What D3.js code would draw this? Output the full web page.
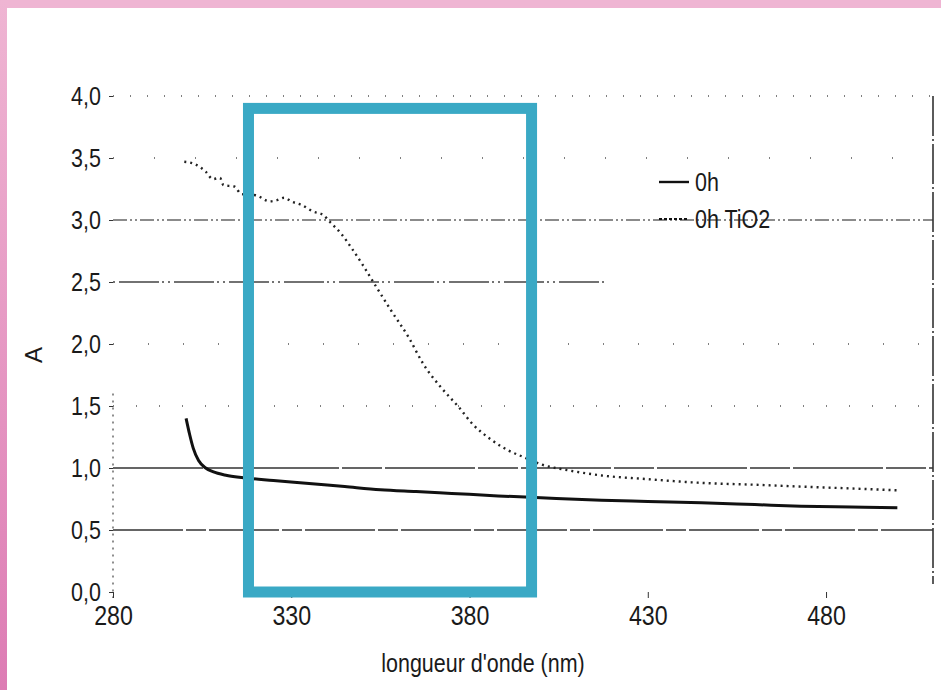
<!DOCTYPE html>
<html>
<head>
<meta charset="utf-8">
<script src="https://cdn.jsdelivr.net/npm/d3@7"></script>
<style>
  body { margin: 0; background: #fff; }
  text { font-family: "Liberation Sans", Arial, sans-serif; fill: #1a1a1a; }
</style>
</head>
<body>
<script>
// absorbance spectra
var wl0h = [300.5, 301.5, 302.5, 304, 306, 308, 312, 317, 325, 335, 345, 355, 365, 375, 388, 400, 417, 430, 445, 460, 473, 487, 500];
var abs0h = [1.40, 1.27, 1.16, 1.06, 1.00, 0.97, 0.94, 0.92, 0.90, 0.875, 0.85, 0.825, 0.81, 0.795, 0.775, 0.76, 0.74, 0.73, 0.72, 0.705, 0.692, 0.685, 0.68];

var wlTiO2 = [300, 303, 306, 308, 310, 311, 314, 316, 320, 324, 326, 328, 330, 333, 336, 339, 341, 344, 347, 350, 353, 358, 363, 367, 372, 377, 381, 386, 391, 395, 400, 408, 417, 430, 445, 460, 473, 487, 500];
var absTiO2 = [3.47, 3.45, 3.39, 3.33, 3.34, 3.28, 3.27, 3.21, 3.20, 3.15, 3.16, 3.18, 3.15, 3.12, 3.07, 3.04, 2.98, 2.89, 2.77, 2.64, 2.50, 2.27, 2.05, 1.84, 1.65, 1.49, 1.35, 1.23, 1.14, 1.09, 1.03, 0.98, 0.94, 0.91, 0.88, 0.865, 0.85, 0.835, 0.82];

var xTicks = [280, 330, 380, 430, 480];
var yTicks = [0, 0.5, 1, 1.5, 2, 2.5, 3, 3.5, 4];
var seriesNames = ["0h", "0h TiO2"];

// highlighted region (nm, A)
var boxX = [318, 397.4];
var boxY = [0, 3.9];

var W = 941, H = 690;
var squeeze = "scale(0.86,1)";   // scanned text is narrow

var svg = d3.select("body").append("svg")
    .attr("width", W)
    .attr("height", H);

// pink frame from the slide
var defs = svg.append("defs");
var grad = defs.append("linearGradient").attr("id", "pinkside")
    .attr("x1", 0).attr("y1", 0).attr("x2", 0).attr("y2", 1);
grad.append("stop").attr("offset", "0%").attr("stop-color", "#efb5d3");
grad.append("stop").attr("offset", "100%").attr("stop-color", "#dd7cb4");

svg.append("rect").attr("width", W).attr("height", H).attr("fill", "#fff");
svg.append("rect").attr("x", 0).attr("y", 0).attr("width", W).attr("height", 8).attr("fill", "#efb5d3");
svg.append("rect").attr("x", 0).attr("y", 0).attr("width", 7).attr("height", H).attr("fill", "url(#pinkside)");

var x = d3.scaleLinear().domain([280, 510]).range([113, 933]);
var y = d3.scaleLinear().domain([0, 4]).range([592, 96]);

// gridlines - the scan has faded most of them into dots
var gridDash = ["0", "70,3,20,3", "90,3,40,3", "1,22", "1,34", "2,4,40,3,2,4", "14,3,2,3,2,3", "1,40", "1,16"];
var gridCol  = ["none", "#333", "#333", "#555", "#555", "#444", "#666", "#555", "#555"];
var gridEnd  = [510, 510, 510, 510, 510, 418, 510, 510, 510];
svg.append("g").selectAll("line")
    .data(yTicks)
    .enter().append("line")
    .attr("x1", x(280))
    .attr("x2", function(d, i) { return x(gridEnd[i]); })
    .attr("y1", function(d) { return y(d); })
    .attr("y2", function(d) { return y(d); })
    .attr("stroke", function(d, i) { return gridCol[i]; })
    .attr("stroke-width", function(d, i) { return i < 3 ? 1.5 : 1.3; })
    .attr("stroke-dasharray", function(d, i) { return gridDash[i]; });

// right edge of the plot area
svg.append("line")
    .attr("x1", x(510)).attr("x2", x(510))
    .attr("y1", y(4)).attr("y2", y(0) - 8)
    .attr("stroke", "#333").attr("stroke-width", 1.6)
    .attr("stroke-dasharray", "40,3,2,3");

// left axis, faint and broken
svg.append("line")
    .attr("x1", x(280)).attr("x2", x(280))
    .attr("y1", y(1.6)).attr("y2", y(0) + 6)
    .attr("stroke", "#444").attr("stroke-width", 1.2)
    .attr("stroke-dasharray", "2,5");

// y axis
var yAxis = d3.axisLeft(y)
    .tickValues(yTicks)
    .tickSize(4)
    .tickPadding(10)
    .tickFormat(function(d) { return d3.format(".1f")(d).replace(".", ","); });
var gy = svg.append("g")
    .attr("transform", "translate(" + x(280) + ",0)")
    .call(yAxis);
gy.select(".domain").remove();
gy.selectAll(".tick line").attr("stroke", "#333");
gy.selectAll(".tick text").attr("font-size", 25).attr("fill", "#1a1a1a")
    .attr("transform", squeeze);

// x axis
var xAxis = d3.axisBottom(x)
    .tickValues(xTicks)
    .tickSize(6)
    .tickPadding(8);
var gx = svg.append("g")
    .attr("transform", "translate(0," + y(0) + ")")
    .call(xAxis);
gx.select(".domain").remove();
gx.selectAll(".tick line").attr("stroke", "#333");
gx.selectAll(".tick text").attr("font-size", 27).attr("fill", "#1a1a1a")
    .attr("transform", squeeze);

// axis titles
svg.append("text")
    .attr("transform", "translate(483,672) " + squeeze)
    .attr("text-anchor", "middle")
    .attr("font-size", 25)
    .text("longueur d'onde (nm)");

svg.append("text")
    .attr("transform", "translate(42,355) rotate(-90)")
    .attr("text-anchor", "middle")
    .attr("font-size", 24)
    .text("A");

// curves
var line = d3.line()
    .x(function(d) { return x(d[0]); })
    .y(function(d) { return y(d[1]); })
    .curve(d3.curveMonotoneX);

svg.append("path")
    .datum(d3.zip(wlTiO2, absTiO2))
    .attr("fill", "none")
    .attr("stroke", "#222")
    .attr("stroke-width", 2.4)
    .attr("stroke-dasharray", "2,4")
    .attr("d", line);

svg.append("path")
    .datum(d3.zip(wl0h, abs0h))
    .attr("fill", "none")
    .attr("stroke", "#111")
    .attr("stroke-width", 3)
    .attr("d", line);

// legend
var legend = svg.append("g").attr("transform", "translate(659,182)");
legend.selectAll("line")
    .data(seriesNames)
    .enter().append("line")
    .attr("x1", 0).attr("x2", 30)
    .attr("y1", function(d, i) { return i * 37; })
    .attr("y2", function(d, i) { return i * 37; })
    .attr("stroke", "#111")
    .attr("stroke-width", function(d, i) { return i == 0 ? 2.4 : 2; })
    .attr("stroke-dasharray", function(d, i) { return i == 0 ? "0" : "3,2"; });
legend.selectAll("text")
    .data(seriesNames)
    .enter().append("text")
    .attr("transform", function(d, i) { return "translate(36," + (i * 37 + 9) + ") " + squeeze; })
    .attr("font-size", 25)
    .text(function(d) { return d; });

// cyan highlight box
svg.append("rect")
    .attr("x", x(boxX[0]))
    .attr("y", y(boxY[1]))
    .attr("width", x(boxX[1]) - x(boxX[0]))
    .attr("height", y(boxY[0]) - y(boxY[1]))
    .attr("fill", "none")
    .attr("stroke", "#3aa9c5")
    .attr("stroke-width", 11);
</script>
</body>
</html>
